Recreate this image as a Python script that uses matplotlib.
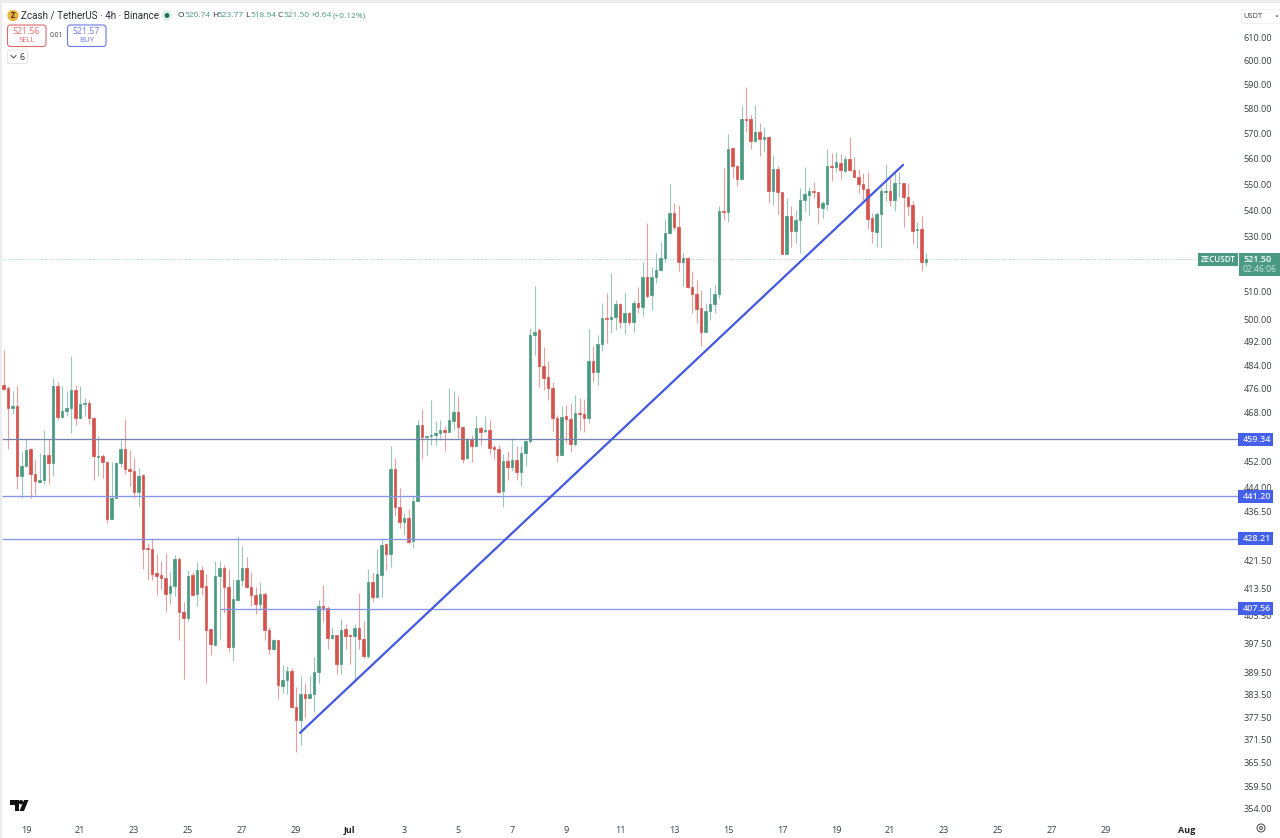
import numpy as np
import matplotlib
matplotlib.use("Agg")
import matplotlib.pyplot as plt
from matplotlib.patches import FancyBboxPatch, Rectangle, Circle, Polygon
from matplotlib.ticker import FixedLocator, FixedFormatter, NullLocator

plt.rcParams['font.family'] = ['Open Sans', 'DejaVu Sans']

opens = [
477.2,476.3,469.6,470.3,447.6,450.7,456.2,448.1,445.8,446.3,
454.3,451.7,476.8,466.6,468.7,469.6,475.7,466.2,470.9,471.2,
466.4,453.7,453.8,452.1,434.3,440.8,451.8,456.2,449.9,449.0,
442.4,447.8,425.3,425.0,417.8,417.4,416.4,412.1,414.0,422.1,
406.7,404.8,417.3,411.7,418.8,414.0,401.6,397.3,416.9,419.5,
413.7,396.7,410.1,416.0,419.5,413.9,411.5,408.8,411.8,401.4,
396.0,398.5,385.9,387.4,390.0,380.2,376.7,383.6,382.7,383.7,
389.7,408.2,407.6,399.1,400.0,391.9,401.7,400.0,399.6,402.0,
398.9,394.2,415.3,411.0,417.3,426.5,423.5,449.8,438.0,433.3,
434.6,427.5,439.7,464.1,459.9,460.3,460.8,461.4,462.4,461.8,
465.3,468.1,463.3,453.3,459.4,457.0,463.0,462.1,462.2,456.7,
456.3,442.8,452.2,450.3,452.7,448.8,454.9,458.8,494.5,496.0,
483.6,479.8,476.2,466.3,454.1,466.8,465.9,457.8,467.9,467.6,
466.3,485.5,481.5,491.3,500.4,500.2,500.6,505.4,499.0,502.2,
498.9,505.8,504.4,515.2,508.6,515.0,517.7,522.2,531.5,538.8,
533.5,520.6,521.9,511.6,509.0,503.8,495.6,502.7,505.4,509.0,
539.6,539.1,564.3,557.2,552.0,575.8,575.8,567.1,570.6,567.8,
568.8,547.5,555.8,546.9,523.4,537.9,532.2,536.3,543.7,545.8,
547.4,546.9,540.9,542.5,557.1,556.8,558.4,555.3,559.7,555.5,
552.9,549.9,548.1,536.9,531.6,538.5,547.1,547.4,543.7,550.3,
550.6,544.9,541.9,532.4,532.8,520.74]
highs = [
489.3,476.8,475.1,477.0,455.2,459.4,456.5,452.8,455.0,462.4,
459.4,479.6,478.4,476.8,475.1,487.2,477.4,477.0,472.9,472.1,
466.5,460.3,454.4,452.3,452.0,452.0,459.2,465.9,456.0,453.4,
450.2,448.1,427.0,428.0,423.5,421.6,424.0,418.1,423.2,422.6,
409.4,418.9,418.1,421.1,419.9,417.6,401.8,421.6,421.6,420.3,
419.1,416.2,429.0,426.0,422.6,418.1,413.7,415.2,412.3,402.3,
399.0,398.5,391.6,391.3,390.9,385.7,388.6,386.6,388.8,393.9,
409.9,414.4,408.4,402.2,400.0,404.5,403.1,400.3,403.1,412.0,
404.0,419.1,418.1,425.0,428.5,427.0,457.0,453.3,443.8,436.1,
437.3,441.2,465.7,469.2,460.3,472.3,465.2,465.7,463.5,476.2,
475.1,473.4,463.5,459.7,460.8,467.0,463.5,466.8,465.7,457.5,
457.5,454.4,455.4,459.7,457.0,457.0,459.2,496.8,511.8,496.8,
490.4,485.3,478.4,467.4,470.1,470.6,471.2,474.0,472.9,472.6,
496.4,490.6,494.5,505.6,509.2,516.7,506.8,505.8,509.8,502.6,
506.8,511.4,520.7,535.0,518.9,523.8,527.8,536.5,550.1,542.6,
542.0,523.8,522.5,517.1,514.0,510.4,505.8,511.0,512.2,541.6,
556.4,569.7,564.7,557.5,581.0,588.9,577.5,581.6,574.2,572.8,
569.0,561.4,557.1,547.1,544.6,541.4,540.1,548.4,556.6,549.0,
551.0,547.1,543.3,563.7,562.3,562.7,561.8,561.0,568.5,560.5,
555.8,554.2,554.9,538.8,539.4,549.0,557.9,552.3,555.0,554.6,
550.6,550.6,543.3,535.6,537.8,523.77]
lows = [
475.5,456.2,467.7,443.6,440.5,450.7,440.5,441.5,445.5,444.9,
445.0,447.4,465.7,466.3,467.0,461.4,464.0,466.2,466.8,464.4,
446.3,447.6,447.0,432.8,434.1,440.5,450.5,448.1,444.4,440.8,
438.2,419.1,416.0,416.0,411.5,413.3,406.5,408.9,411.3,398.5,
387.9,403.9,411.3,408.4,411.5,386.6,394.4,397.3,399.0,406.3,
395.3,392.7,410.1,414.2,413.4,408.4,406.0,407.0,398.5,394.8,
395.7,382.3,383.9,383.6,380.0,368.4,370.2,377.2,382.5,378.8,
386.8,403.7,396.2,398.9,389.2,389.2,396.1,391.9,386.9,396.1,
393.5,393.5,409.3,410.5,411.0,418.9,419.6,435.3,431.3,429.2,
426.5,425.5,439.7,453.0,454.3,457.5,457.5,459.2,455.4,461.8,
462.4,459.7,451.7,453.1,451.9,457.0,457.5,461.4,454.4,452.8,
442.3,438.0,446.4,449.0,446.4,444.3,450.6,458.2,487.5,476.6,
475.7,472.3,461.9,451.9,454.1,458.2,455.1,457.2,462.4,461.6,
464.6,478.4,477.3,489.0,491.6,495.0,496.2,496.8,494.8,497.9,
495.6,502.0,501.1,507.4,503.2,512.8,517.4,520.7,531.0,532.5,
517.1,511.8,511.0,502.0,498.5,490.6,495.4,499.7,502.0,507.4,
536.3,535.3,552.3,549.3,551.6,570.8,564.0,566.5,561.0,563.0,
542.6,542.0,538.5,523.4,523.4,526.2,527.7,523.8,539.8,538.2,
544.6,534.8,536.9,540.1,551.3,554.9,551.9,554.9,555.3,552.6,
546.5,543.9,532.8,527.5,526.2,526.2,543.3,541.6,539.5,545.2,
533.5,538.2,527.2,525.8,517.4,518.94]
closes = [
476.0,469.6,470.3,447.6,450.7,455.8,448.1,445.9,446.4,454.1,
451.7,476.8,466.6,468.7,469.7,475.7,466.2,471.0,471.2,466.3,
453.9,453.9,452.1,434.3,440.8,451.8,456.2,449.9,449.0,442.4,
447.6,425.2,425.0,417.6,417.1,416.4,411.8,414.0,422.1,406.5,
404.8,417.1,411.5,418.8,413.7,401.5,397.4,416.9,419.5,413.7,
396.7,410.2,416.0,419.5,413.7,411.5,408.8,411.8,401.4,396.0,
398.5,386.1,387.4,390.0,380.3,376.7,383.6,382.7,383.7,389.7,
408.4,407.6,399.3,400.0,391.9,401.5,399.6,399.6,402.0,398.9,
394.2,415.3,411.0,417.5,426.2,423.5,449.8,438.0,433.1,434.6,
427.2,439.7,464.1,460.0,460.3,460.8,461.4,462.2,461.6,465.5,
468.1,463.3,453.1,459.2,457.0,463.0,461.8,462.4,456.5,456.2,
442.6,452.4,450.4,452.7,448.8,454.9,458.8,494.5,495.6,483.6,
479.6,476.2,466.3,454.1,466.6,465.9,457.8,467.9,467.6,466.3,
485.5,481.5,491.3,500.4,500.2,500.8,505.4,499.1,502.2,499.1,
505.8,504.4,515.2,508.2,515.0,517.7,522.2,531.5,538.8,533.5,
520.6,521.9,511.4,509.0,503.6,495.6,502.7,505.4,509.0,539.6,
539.1,564.0,557.2,552.0,575.8,575.5,567.1,570.6,567.8,568.8,
547.5,555.8,546.9,523.4,537.9,532.2,536.3,543.7,546.1,547.4,
546.9,541.1,542.9,557.1,556.8,558.7,555.5,559.7,555.5,552.9,
549.9,548.1,536.8,531.9,538.5,547.4,547.4,543.7,550.6,550.6,
544.9,541.6,532.2,532.9,520.7,521.50]

price_ticks = [610,600,590,580,570,560,550,540,530,510,500,492,484,476,468,
               452,444,436.5,421.5,413.5,405.5,397.5,389.5,383.5,377.5,371.5,365.5,359.5,354]
time_tick_pos = [5,17,29,41,53,65,77,89,101,113,125,137,149,161,173,185,197,209,221,233,245,263]
time_tick_labels = ['19','21','23','25','27','29','Jul','3','5','7','9','11','13','15','17','19','21','23','25','27','29','Aug']
levels = [459.34, 441.20, 428.21, 407.56]
level_starts = [-0.4, -0.4, -0.4, 48]
level_colors = ['#7683ad', '#8494ea', '#8494ea', '#8494ea']
trend_x = [65.9, 199.9]
trend_y = [373.3, 557.5]
last_price = 521.50

GREEN, RED = '#4a9a82', '#d5524d'
W, H = 1280, 838
fig = plt.figure(figsize=(12.8, 8.38), dpi=100, facecolor='white')
ax_top, ax_bot, ax_right = 4, 820, 1238
ax = fig.add_axes([0, (H-ax_bot)/H, ax_right/W, (ax_bot-ax_top)/H])
ax.set_yscale('log')
k = 1416.0
ax.set_ylim(610*np.exp(-(ax_bot-37.5)/k), 610*np.exp(-(ax_top-37.5)/k))
ax.set_xlim(-3.5/4.5, (ax_right-3.5)/4.5)

o, h, l, c = map(np.array, (opens, highs, lows, closes))
x = np.arange(len(o))
up = c >= o
cols = np.where(up, GREEN, RED)
ax.vlines(x, l, h, colors=cols, linewidth=0.8, alpha=0.55, zorder=2)
ax.bar(x, np.abs(c-o), bottom=np.minimum(o, c), width=0.66, color=cols,
       edgecolor=cols, linewidth=0.5, zorder=3)

for v, s, col in zip(levels, level_starts, level_colors):
    ax.hlines(v, s, ax.get_xlim()[1], colors=col, linewidth=0.95, zorder=4)
ax.plot(trend_x, trend_y, color='#4258e0', linewidth=1.6, zorder=5, solid_capstyle='round')
ax.axhline(last_price, color='#a9d2c4', linewidth=0.7, linestyle=(0, (1, 1.6)), zorder=1)

for s in ax.spines.values():
    s.set_visible(False)
ax.yaxis.tick_right()
ax.yaxis.set_major_locator(FixedLocator(price_ticks))
ax.yaxis.set_major_formatter(FixedFormatter([f'{v:.2f}' for v in price_ticks]))
ax.yaxis.set_minor_locator(NullLocator())
ax.tick_params(axis='y', length=0, pad=4, labelsize=6.6, labelcolor='#3a3e48')
ax.set_xticks(time_tick_pos, time_tick_labels)
ax.tick_params(axis='x', length=0, pad=4, labelsize=6.5, labelcolor='#3a3e48')
for t in ax.get_xticklabels():
    if t.get_text() in ('Jul', 'Aug'):
        t.set_fontweight('bold')
        t.set_color('#222222')

# pixel-space overlay for the application chrome
ov = fig.add_axes([0, 0, 1, 1], zorder=10)
ov.set_xlim(0, W); ov.set_ylim(H, 0); ov.axis('off'); ov.patch.set_alpha(0)

def ypx(v):
    return H - ax.transData.transform((0, v))[1]

ov.add_patch(Rectangle((0, 0), W, 3, fc='#ececec', ec='none'))
ov.add_patch(Rectangle((0, 0), 1.6, H, fc='#ececec', ec='none'))

# header
ov.add_patch(Circle((13, 15.5), 5.6, fc='#e8b23c', ec='none'))
ov.text(13, 15.5, 'Z', fontsize=5.5, ha='center', va='center', color='#4a3510', fontweight='bold')
ov.text(21, 15.5, 'Zcash / TetherUS · 4h · Binance', fontsize=7.1, family='Roboto', va='center', color='#2a2e39')
ov.add_patch(Circle((167, 15.5), 5, fc='#dcefe9', ec='none'))
ov.add_patch(Circle((167, 15.5), 2.4, fc='#1f6f5c', ec='none'))
for px, txt, col in [(178, 'O', '#2a2e39'), (184, '520.74', GREEN), (212, 'H', '#2a2e39'), (217.5, '523.77', GREEN),
                     (245, 'L', '#2a2e39'), (250, '518.94', GREEN), (278, 'C', '#2a2e39'), (283, '521.50', GREEN),
                     (311, '+0.64', GREEN), (333, '(+0.12%)', GREEN)]:
    ov.text(px, 15.8, txt, fontsize=6.0, va='center', color=col)

for bx, col, val, lab in [(7.5, '#e46a6a', '521.56', 'SELL'), (67.5, '#6b78e6', '521.57', 'BUY')]:
    ov.add_patch(FancyBboxPatch((bx+2, 27), 34.5, 17.5, boxstyle='round,pad=2,rounding_size=3', fc='white', ec=col, lw=0.8))
    ov.text(bx+19, 31.5, val, fontsize=6.3, ha='center', va='center', color=col)
    ov.text(bx+19, 41, lab, fontsize=5.6, ha='center', va='center', color=col)
ov.text(56.5, 35.5, '0.01', fontsize=4.9, ha='center', va='center', color='#3a3e48')
ov.add_patch(FancyBboxPatch((8.5, 51), 18, 11.5, boxstyle='round,pad=1,rounding_size=2', fc='white', ec='#e3e5ea', lw=0.7))
ov.plot([11, 13.5, 16], [55.5, 58, 55.5], color='#444444', lw=0.7)
ov.text(21.5, 57, '6', fontsize=6.4, ha='center', va='center', color='#333333')

# USDT box
ov.add_patch(Rectangle((1241, 9), 40, 14, fc='white', ec='#e2e2e2', lw=0.6, ls=(0, (1.5, 1.5))))
ov.text(1243, 16, 'USDT', fontsize=5.4, va='center', color='#3a3e48')
ov.add_patch(Polygon([(1275.5, 15.5), (1278.5, 15.5), (1277, 17.3)], fc='#444444', ec='none'))

# price tags
for v in levels:
    y = ypx(v)
    ov.add_patch(Rectangle((1238, y-6.5), 35, 13, fc='#4460ea', ec='none'))
    ov.text(1257, y+0.2, f'{v:.2f}', fontsize=6.5, ha='center', va='center', color='#e8ecff', fontweight='semibold')
y = ypx(last_price)
ov.add_patch(Rectangle((1198, y-6.8), 40, 13, fc=GREEN, ec='none'))
ov.text(1218, y-0.3, 'ZECUSDT', fontsize=5.8, ha='center', va='center', color='white', fontweight='semibold')
ov.add_patch(Rectangle((1238.5, y-6.8), 41.5, 23, fc=GREEN, ec='none'))
ov.text(1257.5, y, f'{last_price:.2f}', fontsize=6.5, ha='center', va='center', color='white', fontweight='semibold')
ov.text(1260, y+10.5, '02:46:06', fontsize=6.2, ha='center', va='center', color='#c9e6dc')

# corner icons
ov.add_patch(Circle((1261, 828), 4, fc='none', ec='#444444', lw=0.7))
ov.add_patch(Circle((1261, 828), 1.5, fc='none', ec='#444444', lw=0.7))
ov.add_patch(Polygon([(10, 800), (18.5, 800), (18.5, 811), (14.5, 811), (14.5, 804.5), (10, 804.5)], fc='#111111', ec='none'))
ov.add_patch(Circle((21, 802.2), 2.2, fc='#111111', ec='none'))
ov.add_patch(Polygon([(24, 800), (28.5, 800), (24, 811), (19.5, 811)], fc='#111111', ec='none'))

fig.savefig('out.png', dpi=100, facecolor='white')
